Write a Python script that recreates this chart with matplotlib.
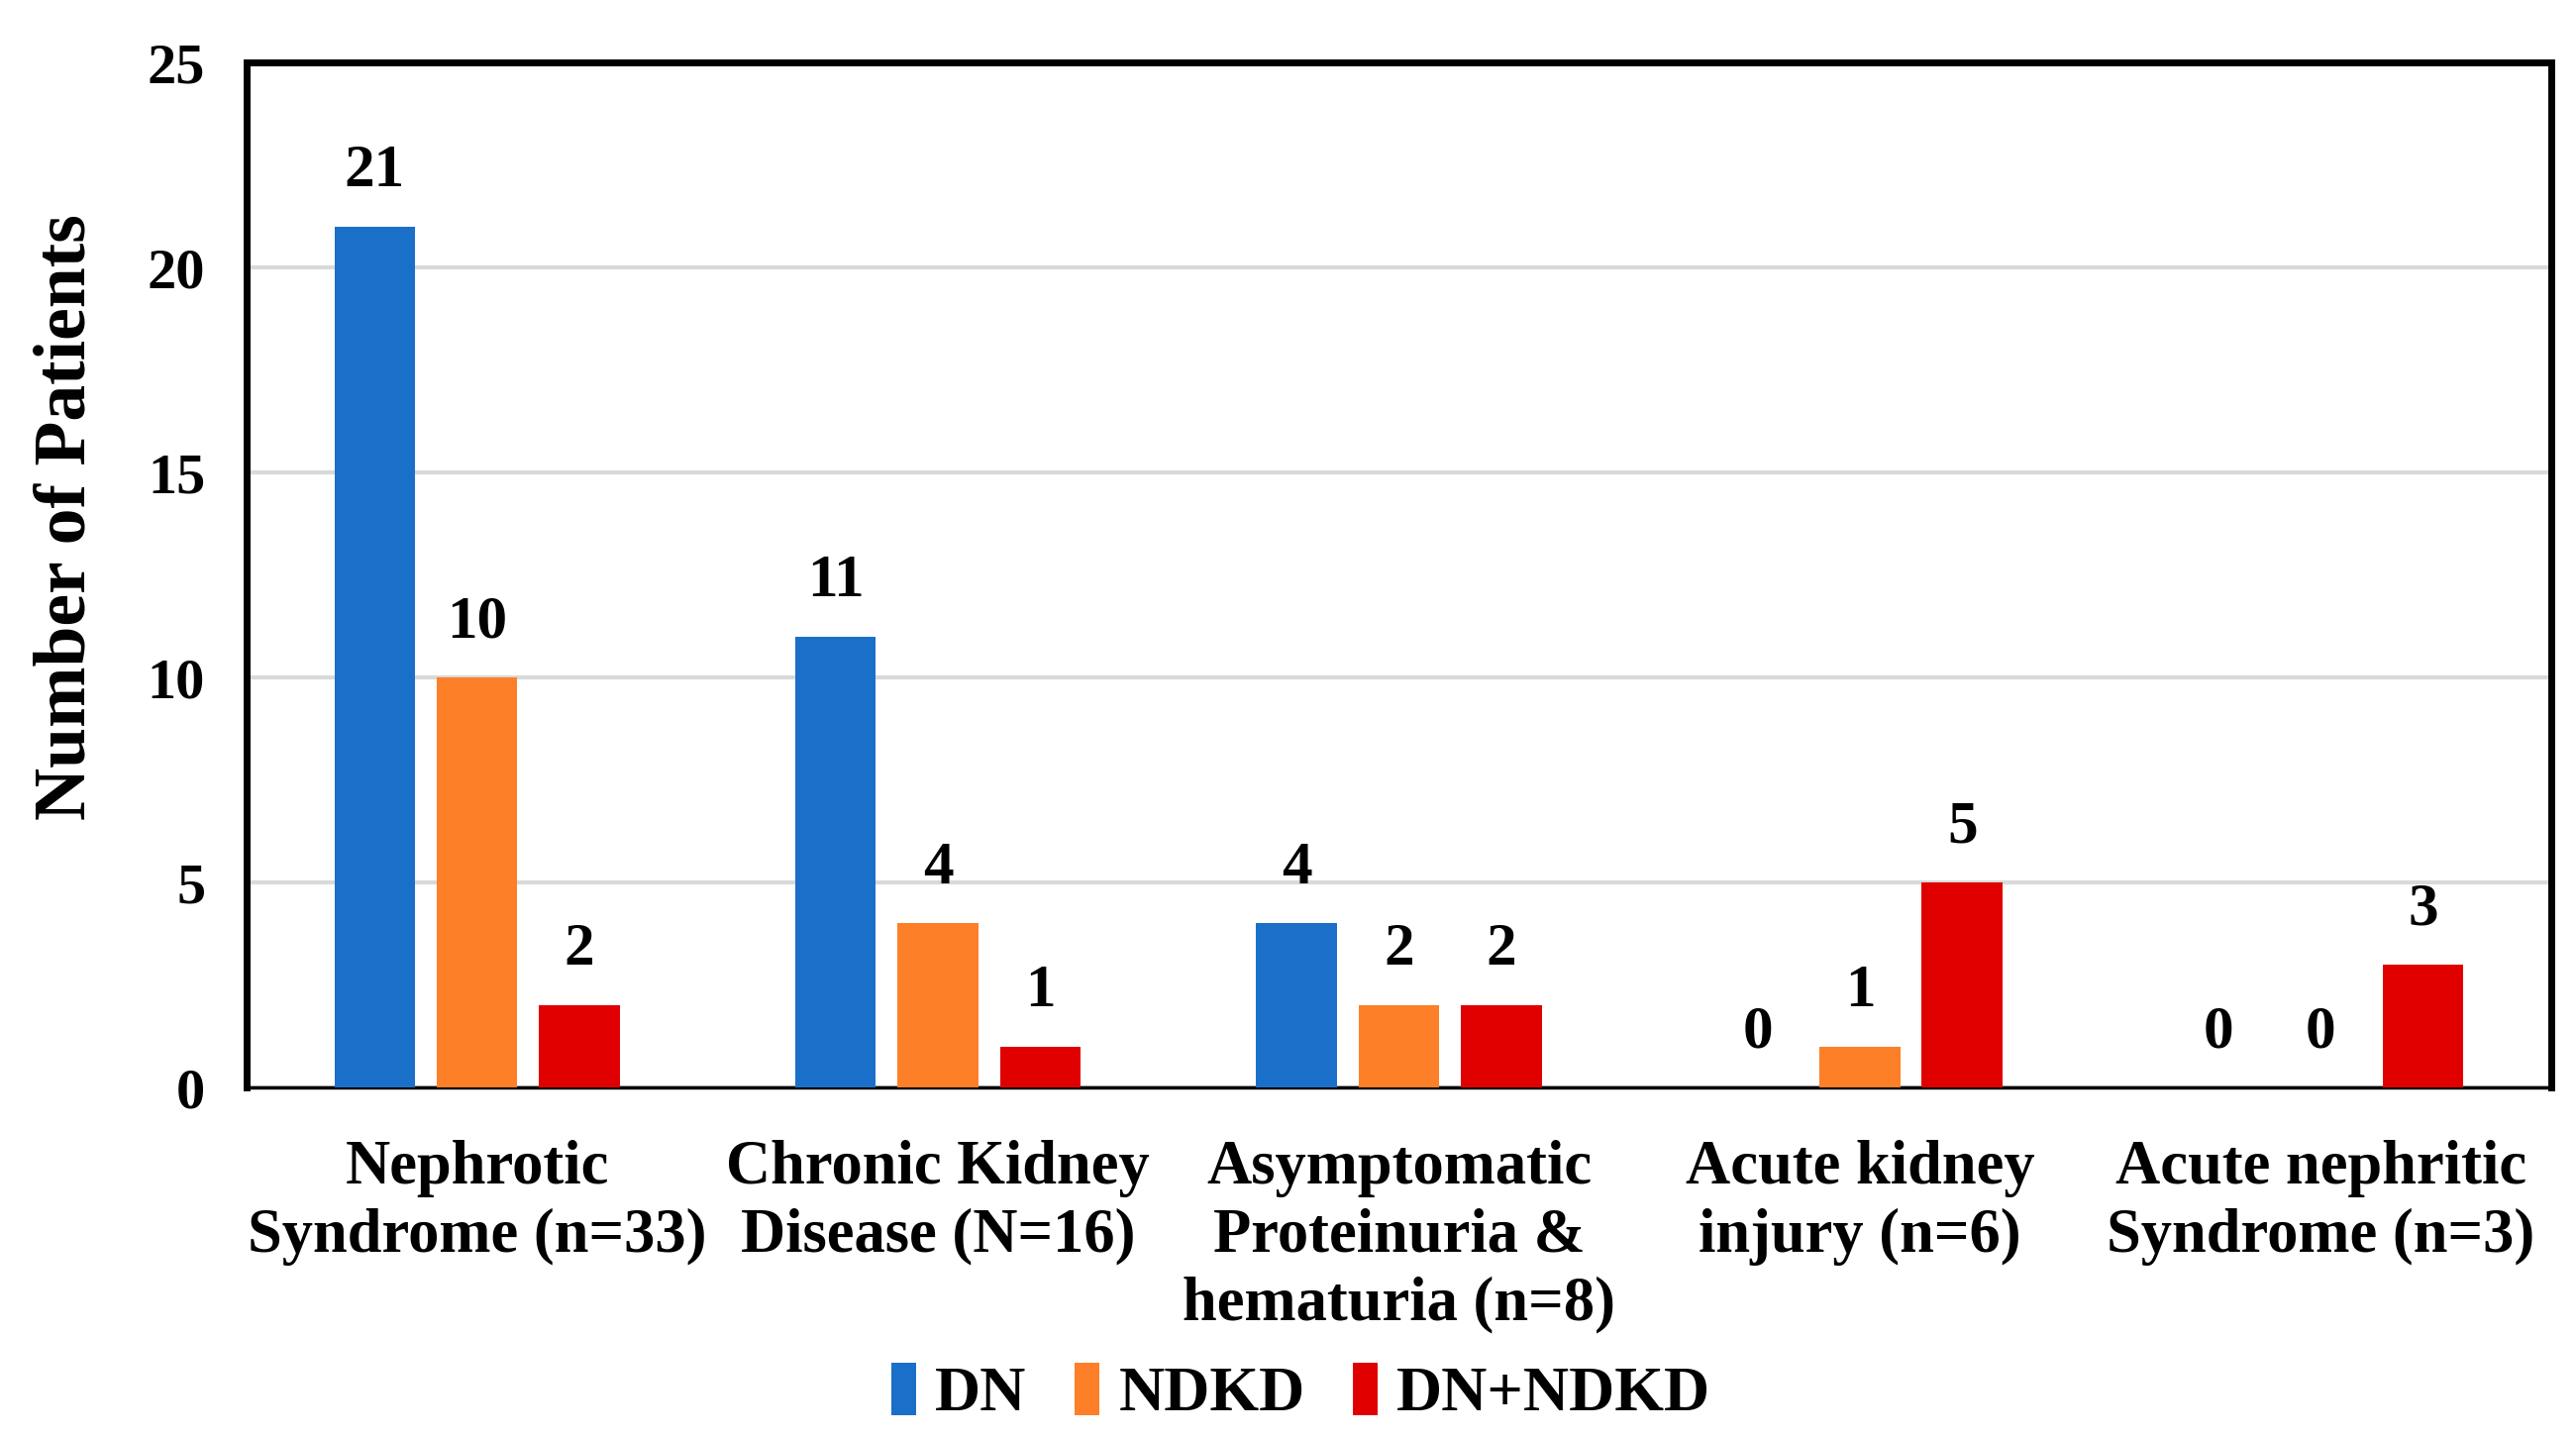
import numpy as np
import matplotlib
matplotlib.use("Agg")
import matplotlib.pyplot as plt

categories = ["Nephrotic\nSyndrome (n=33)", "Chronic Kidney\nDisease (N=16)",
              "Asymptomatic\nProteinuria &\nhematuria (n=8)", "Acute kidney\ninjury (n=6)",
              "Acute nephritic\nSyndrome (n=3)"]
series_names = ["DN", "NDKD", "DN+NDKD"]
dn = [21, 11, 4, 0, 0]
ndkd = [10, 4, 2, 1, 0]
dn_ndkd = [2, 1, 2, 5, 3]
colors = ["#1a70c8", "#fd7f28", "#e00000"]

plt.rcParams["font.family"] = ["Liberation Serif", "DejaVu Serif"]
plt.rcParams["font.weight"] = "bold"

fig = plt.figure(figsize=(26.01, 14.52), dpi=100)
ax = fig.add_axes([0.0957, 0.2438, 0.8947, 0.7128])

x = np.arange(len(categories))
width = 0.175
offsets = [-0.222, 0, 0.222]
for vals, name, col, off in zip([dn, ndkd, dn_ndkd], series_names, colors, offsets):
    bars = ax.bar(x + off, vals, width, color=col, label=name, zorder=3)
    for b, v in zip(bars, vals):
        ax.annotate(str(v), (b.get_x() + b.get_width() / 2, v),
                    xytext=(0, 20), textcoords="offset points",
                    ha="center", va="bottom", fontsize=44, fontweight="bold")

ax.set_xlim(-0.5, 4.5)
ax.set_ylim(0, 25)
ax.set_yticks(range(0, 26, 5))
ax.yaxis.grid(True, color="#d9d9d9", linewidth=3, zorder=0)
ax.set_axisbelow(True)
ax.set_xticks(x)
ax.set_xticklabels(categories, fontsize=45, fontweight="bold", linespacing=1.25)
ax.tick_params(axis="x", length=0, pad=38)
ax.tick_params(axis="y", length=0, pad=30, labelsize=42)
for lab in ax.get_yticklabels():
    lab.set_fontweight("bold")
ax.set_ylabel("Number of Patients", fontsize=53, fontweight="bold", labelpad=34)
ax.yaxis.label.set_y(0.556)

for s in ["top", "left", "right"]:
    ax.spines[s].set_linewidth(5)
    ax.spines[s].set_color("black")
ax.spines["bottom"].set_linewidth(2.5)

fig.legend(loc="center", bbox_to_anchor=(0.505, 0.031), ncol=3, frameon=False,
           handlelength=0.4, handleheight=0.9, handletextpad=0.3,
           columnspacing=0.75, prop={"size": 46, "weight": "bold"})

fig.savefig("out.png", dpi=100)
